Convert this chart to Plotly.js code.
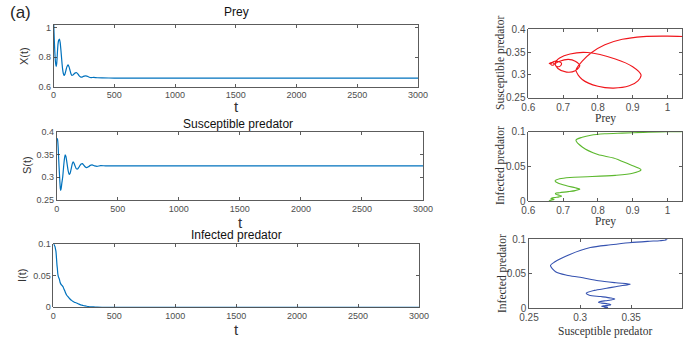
<!DOCTYPE html>
<html>
<head>
<meta charset="utf-8">
<script src="https://cdn.plot.ly/plotly-3.0.1.min.js"></script>
<style>html,body{margin:0;padding:0;background:#fff;}#chart{width:685px;height:343px;}</style>
</head>
<body>
<div id="chart"></div>
<script>
// time points
var tVals = [0, 3, 6, 9, 12, 15, 18, 22, 26, 30, 33, 37, 42, 49, 55, 61, 69, 75, 81, 87, 94, 102, 110, 120, 128, 135, 143, 150, 160, 170, 180, 191, 200, 210, 220, 232, 245, 260, 275, 290, 310, 330, 360, 400, 500, 1000, 1500, 2000, 2500, 3000];
// Prey X(t)
var preyX = [1.08, 1.00, 0.93, 0.87, 0.82, 0.78, 0.755, 0.737, 0.755, 0.80, 0.845, 0.89, 0.915, 0.924, 0.90, 0.85, 0.77, 0.72, 0.69, 0.677, 0.685, 0.71, 0.735, 0.748, 0.735, 0.715, 0.69, 0.678, 0.68, 0.688, 0.694, 0.695, 0.688, 0.676, 0.668, 0.665, 0.67, 0.674, 0.672, 0.666, 0.662, 0.663, 0.661, 0.660, 0.659, 0.659, 0.659, 0.659, 0.659, 0.659];
// Susceptible predator S(t)
var suscS = [0.383, 0.385, 0.384, 0.378, 0.366, 0.348, 0.330, 0.310, 0.290, 0.275, 0.271, 0.276, 0.287, 0.300, 0.318, 0.335, 0.349, 0.346, 0.337, 0.326, 0.314, 0.306, 0.309, 0.320, 0.330, 0.334, 0.330, 0.325, 0.319, 0.318, 0.321, 0.326, 0.329, 0.330, 0.327, 0.323, 0.321, 0.323, 0.326, 0.327, 0.325, 0.324, 0.3255, 0.325, 0.325, 0.325, 0.325, 0.325, 0.325, 0.325];
// Infected predator I(t)
var infI = [0.100, 0.100, 0.099, 0.098, 0.097, 0.095, 0.092, 0.088, 0.078, 0.067, 0.062, 0.053, 0.048, 0.045, 0.040, 0.037, 0.035, 0.034, 0.032, 0.029, 0.026, 0.022, 0.019, 0.017, 0.015, 0.0135, 0.012, 0.011, 0.0095, 0.0085, 0.0075, 0.0068, 0.006, 0.005, 0.0042, 0.0035, 0.0028, 0.0022, 0.0017, 0.0013, 0.0009, 0.0006, 0.0003, 0.0001, 0, 0, 0, 0, 0, 0];

// tick labels
var tTicks = [0, 500, 1000, 1500, 2000, 2500, 3000];
var xTicksL = [0.6, 0.8, 1];
var xTickTextL = ['0.6', '0.8', '1'];
var sTicks = [0.25, 0.3, 0.35, 0.4];
var sTickText = ['0.25', '0.3', '0.35', '0.4'];
var iTicks = [0, 0.05, 0.1];
var iTickText = ['0', '0.05', '0.1'];
var preyTicks = [0.6, 0.7, 0.8, 0.9, 1];
var preyTickText = ['0.6', '0.7', '0.8', '0.9', '1'];

var blue = '#0072BD';
function ts(y, xa, ya) {
  return {x: tVals, y: y, xaxis: xa, yaxis: ya, mode: 'lines', type: 'scatter',
    line: {color: blue, width: 1.2, shape: 'spline', smoothing: 0.6}, hoverinfo: 'none'};
}
function ph(x, y, xa, ya, c) {
  return {x: x, y: y, xaxis: xa, yaxis: ya, mode: 'lines', type: 'scatter',
    line: {color: c, width: 1.1, shape: 'spline', smoothing: 0.8}, hoverinfo: 'none'};
}
var data = [
  ts(preyX, 'x', 'y'),
  ts(suscS, 'x2', 'y2'),
  ts(infI, 'x3', 'y3'),
  ph(preyX, suscS, 'x4', 'y4', '#f0161c'),
  ph(preyX, infI, 'x5', 'y5', '#5cb82e'),
  ph(suscS, infI, 'x6', 'y6', '#3552b0')
];

var W = 685, H = 343;
function dx(a, b) { return [a / W, b / W]; }
function dy(top, bot) { return [1 - bot / H, 1 - top / H]; }
function ax(extra, size) {
  var o = {showline: true, linecolor: '#333', linewidth: 0.8, mirror: 'ticks', ticks: 'inside',
    ticklen: 3, tickcolor: '#333', tickwidth: 0.8, showgrid: false, zeroline: false, fixedrange: true,
    tickfont: {family: 'Liberation Sans, Arial, sans-serif', size: size || 9, color: '#4d4d4d'}, tickmode: 'array'};
  for (var k in extra) o[k] = extra[k];
  return o;
}
var layout = {
  width: W, height: H, margin: {l: 0, r: 0, t: 0, b: 0}, showlegend: false,
  paper_bgcolor: '#fff', plot_bgcolor: '#fff',
  font: {family: 'Liberation Sans, Arial, sans-serif', color: '#262626'},
  xaxis: ax({domain: dx(53.5, 418), range: [0, 3000], tickvals: tTicks, anchor: 'y'}),
  yaxis: ax({domain: dy(25, 86.7), range: [0.6, 1.02], tickvals: xTicksL, ticktext: xTickTextL, anchor: 'x'}),
  xaxis2: ax({domain: dx(56.7, 423), range: [0, 3000], tickvals: tTicks, anchor: 'y2'}),
  yaxis2: ax({domain: dy(131.7, 200), range: [0.25, 0.4], tickvals: sTicks, ticktext: sTickText, anchor: 'x2'}),
  xaxis3: ax({domain: dx(53.3, 419), range: [0, 3000], tickvals: tTicks, anchor: 'y3'}),
  yaxis3: ax({domain: dy(244, 307.3), range: [0, 0.1], tickvals: iTicks, ticktext: iTickText, anchor: 'x3'}),
  xaxis4: ax({domain: dx(528.3, 682.3), range: [0.6, 1.0425], tickvals: preyTicks, ticktext: preyTickText, anchor: 'y4'}, 10),
  yaxis4: ax({domain: dy(29.3, 97.7), range: [0.25, 0.4], tickvals: sTicks, ticktext: sTickText, anchor: 'x4'}, 10),
  xaxis5: ax({domain: dx(528.3, 681.7), range: [0.6, 1.041], tickvals: preyTicks, ticktext: preyTickText, anchor: 'y5'}, 10),
  yaxis5: ax({domain: dy(131.7, 201), range: [0, 0.1], tickvals: iTicks, ticktext: iTickText, anchor: 'x5'}, 10),
  xaxis6: ax({domain: dx(529, 682.3), range: [0.25, 0.4], tickvals: sTicks, ticktext: sTickText, anchor: 'y6'}, 10),
  yaxis6: ax({domain: dy(239.3, 308.3), range: [0, 0.1], tickvals: iTicks, ticktext: iTickText, anchor: 'x6'}, 10),
  annotations: []
};
function ann(text, x, y, size, fam, color, rot) {
  layout.annotations.push({text: text, x: x / W, y: 1 - y / H, xref: 'paper', yref: 'paper',
    xanchor: 'center', yanchor: 'middle', showarrow: false, textangle: rot || 0,
    font: {size: size, family: fam || 'Liberation Sans, Arial, sans-serif', color: color || '#262626'}});
}
var serif = 'Liberation Serif, Times New Roman, serif';
ann('(a)', 20, 13, 17, null, '#262626');
ann('Prey', 236, 12, 12, null, '#111');
ann('Susceptible predator', 238, 124, 12, null, '#111');
ann('Infected predator', 236, 235, 12, null, '#111');
ann('t', 236, 106, 15, null, '#333');
ann('t', 240, 222, 15, null, '#333');
ann('t', 236, 329, 15, null, '#333');
ann('X(t)', 24, 56, 11, null, '#333', -90);
ann('S(t)', 27, 165, 11, null, '#333', -90);
ann('I(t)', 22, 276, 11, null, '#333', -90);
ann('Prey', 605, 118, 11.5, serif, '#333');
ann('Prey', 605, 221, 11.5, serif, '#333');
ann('Susceptible predator', 605, 331, 11.5, serif, '#333');
ann('Susceptible predator', 501, 63, 11.5, serif, '#333', -90);
ann('Infected predator', 500, 166, 11.5, serif, '#333', -90);
ann('Infected predator', 502, 274, 11.5, serif, '#333', -90);

Plotly.newPlot('chart', data, layout, {displayModeBar: false, staticPlot: true});
</script>
</body>
</html>
